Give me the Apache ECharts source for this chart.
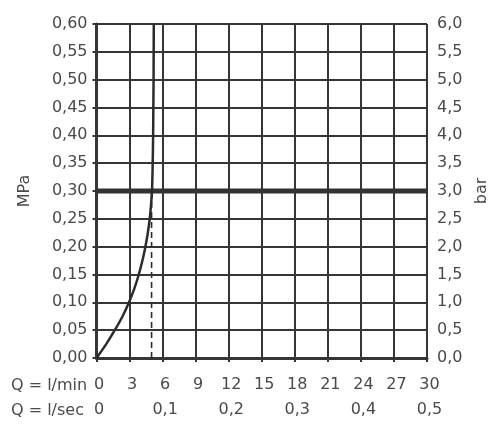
<!DOCTYPE html>
<html>
<head>
<meta charset="utf-8">
<script src="https://cdn.jsdelivr.net/npm/echarts@6/dist/echarts.min.js"></script>
<style>
  html, body { margin: 0; padding: 0; background: #fff; }
  #chart { width: 500px; height: 429px; }
</style>
</head>
<body>
<div id="chart"></div>
<script>
// durchfluss-kurve (l/min) gegen druck (MPa)
var flowLpm = [0, 0.88, 1.66, 2.37, 2.95, 3.44, 3.84, 4.17, 4.44, 4.66, 4.83, 4.95, 5.04, 5.1, 5.14, 5.16, 5.18, 5.19, 5.2];
var pressureMpa = [0, 0.025, 0.05, 0.075, 0.10, 0.125, 0.15, 0.175, 0.20, 0.225, 0.25, 0.275, 0.30, 0.35, 0.40, 0.45, 0.50, 0.55, 0.60];
// betriebsdruck und zugehoeriger durchfluss
var workPressure = 0.30;
var workFlow = 5.0;
// achsen
var lpmTicks = [0, 30, 3];      // min, max, schritt
var lsecTicks = [0, 0.5, 0.1];
var mpaTicks = [0, 0.60, 0.05];
var barTicks = [0, 6.0, 0.5];

var textColor = '#4a4a4a';
var lineColor = '#363636';
var font = 'DejaVu Sans';

function comma(d) {
    return function (v) { return v.toFixed(d).replace('.', ','); };
}

var curve = [];
for (var i = 0; i < flowLpm.length; i++) {
    curve.push([flowLpm[i], pressureMpa[i]]);
}

var chart = echarts.init(document.getElementById('chart'));
var option = {
    animation: false,
    backgroundColor: '#fff',
    textStyle: { fontFamily: font, color: textColor },
    grid: { left: 96.5, right: 73, top: 24, bottom: 71, containLabel: false, outerBoundsMode: 'none' },
    xAxis: [{
        type: 'value', position: 'bottom',
        min: lpmTicks[0], max: lpmTicks[1], interval: lpmTicks[2],
        axisLine: { show: true, onZero: false, lineStyle: { color: lineColor, width: 3 } },
        axisTick: { show: true, inside: false, length: 4, lineStyle: { color: lineColor, width: 2 } },
        axisLabel: { fontFamily: font, fontSize: 16, color: textColor, margin: 19, padding: [0, 0, 0, 5] },
        splitLine: { show: true, lineStyle: { color: lineColor, width: 2 } }
    }, {
        type: 'value', position: 'bottom', offset: 25,
        min: lsecTicks[0], max: lsecTicks[1], interval: lsecTicks[2],
        axisLine: { show: false },
        axisTick: { show: false },
        axisLabel: { fontFamily: font, fontSize: 16, color: textColor, margin: 19, padding: [0, 0, 0, 5],
            formatter: function (v) { return v === 0 ? '0' : comma(1)(v); } },
        splitLine: { show: false }
    }],
    yAxis: [{
        type: 'value', position: 'left',
        min: mpaTicks[0], max: mpaTicks[1], interval: mpaTicks[2],
        name: 'MPa', nameLocation: 'middle', nameRotate: 90, nameGap: 64,
        nameTextStyle: { fontFamily: font, fontSize: 16, color: textColor },
        axisLine: { show: true, lineStyle: { color: lineColor, width: 2 } },
        axisTick: { show: true, inside: false, length: 4, lineStyle: { color: lineColor, width: 2 } },
        axisLabel: { fontFamily: font, fontSize: 16, color: textColor, margin: 9, formatter: comma(2) },
        splitLine: { show: true, lineStyle: { color: lineColor, width: 2 } }
    }, {
        type: 'value', position: 'right',
        min: barTicks[0], max: barTicks[1], interval: barTicks[2],
        name: 'bar', nameLocation: 'middle', nameRotate: 90, nameGap: 44,
        nameTextStyle: { fontFamily: font, fontSize: 16, color: textColor },
        axisLine: { show: true, lineStyle: { color: lineColor, width: 3 } },
        axisTick: { show: true, inside: false, length: 4, lineStyle: { color: lineColor, width: 2 } },
        axisLabel: { fontFamily: font, fontSize: 16, color: textColor, margin: 10, formatter: comma(1) },
        splitLine: { show: false }
    }],
    graphic: [
        { type: 'text', left: 11, top: 378, style: { text: 'Q = l/min', fontFamily: font, fontSize: 16, fill: textColor } },
        { type: 'text', left: 11, top: 403, style: { text: 'Q = l/sec', fontFamily: font, fontSize: 16, fill: textColor } }
    ],
    series: [{
        name: 'Betriebsdruck', type: 'line', xAxisIndex: 0, yAxisIndex: 0,
        data: [[lpmTicks[0], workPressure], [lpmTicks[1], workPressure]],
        showSymbol: false, silent: true,
        lineStyle: { color: '#333', width: 5 }
    }, {
        name: 'Durchfluss', type: 'line', xAxisIndex: 0, yAxisIndex: 0,
        data: [[workFlow, 0], [workFlow, workPressure]],
        showSymbol: false, silent: true,
        lineStyle: { color: '#2b2b2b', width: 1.6, type: [6, 4] }
    }, {
        name: 'Kurve', type: 'line', xAxisIndex: 0, yAxisIndex: 0,
        data: curve, smooth: 0.3,
        showSymbol: false, silent: true,
        lineStyle: { color: '#2b2b2b', width: 2.5 }
    }]
};
chart.setOption(option);
</script>
</body>
</html>
